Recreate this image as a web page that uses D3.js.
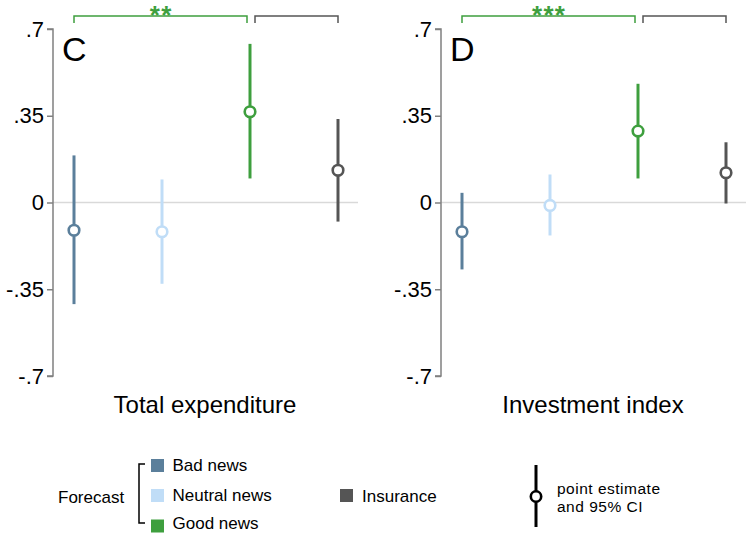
<!DOCTYPE html>
<html><head><meta charset="utf-8">
<script src="https://cdn.jsdelivr.net/npm/d3@7"></script>
<style>body{margin:0;background:#fff}svg{display:block;font-family:"Liberation Sans",Arial,Helvetica,sans-serif}</style>
</head><body>
<svg id="c" width="747" height="533"></svg>
<script>
const categories = ["Bad news","Neutral news","Good news","Insurance"];
const colors = ["#5b7f9b","#c0ddf7","#3e9f3e","#555555"];
const panelLetters = ["C","D"];
const panelTitles = ["Total expenditure","Investment index"];
const stars = ["**","***"];
const estC = [-0.112,-0.118,0.366,0.130];
const loC  = [-0.410,-0.328,0.097,-0.077];
const hiC  = [0.190,0.093,0.640,0.337];
const estD = [-0.118,-0.012,0.288,0.120];
const loD  = [-0.270,-0.133,0.097,-0.004];
const hiD  = [0.039,0.113,0.479,0.243];
const yTicks = [0.7,0.35,0,-0.35,-0.7];
const yTickLabels = [".7",".35","0","-.35","-.7"];

const svg = d3.select("#c");
const y = d3.scaleLinear().domain([-0.7,0.7]).range([376,29]);
const x = d3.scalePoint().domain(categories).range([21,285]);
const panelX = [53,441];
const panelData = [[estC,loC,hiC],[estD,loD,hiD]];

const starSize = 26, starSpacing = 1.3;
let starBase = 24;
try {
  const cv = document.createElement("canvas").getContext("2d");
  cv.font = `bold ${starSize}px "Liberation Sans"`;
  const m = cv.measureText("*");
  const boxAsc = m.fontBoundingBoxAscent || 0.905*starSize;
  starBase = Math.max(3 + m.actualBoundingBoxAscent, boxAsc + 0.3);
} catch(e) {}

panelData.forEach((pd,pi)=>{
  const g = svg.append("g").attr("transform",`translate(${panelX[pi]},0)`);
  g.append("line").attr("x1",0).attr("x2",305).attr("y1",y(0)).attr("y2",y(0))
    .attr("stroke","#d9d9d9").attr("stroke-width",1.5);
  const ax = d3.axisLeft(y).tickValues(yTicks).tickSize(6).tickPadding(3)
    .tickFormat((d,i)=>yTickLabels[i]);
  const axg = g.append("g").call(ax);
  axg.select(".domain").attr("stroke","#808080").attr("stroke-width",1.5).attr("d",`M-6,${y(0.7)}H0V${y(-0.7)}H-6`);
  axg.selectAll(".tick line").attr("stroke","#808080").attr("stroke-width",1.5);
  axg.selectAll(".tick text").attr("font-size",22).attr("fill","#000")
    .attr("font-family","'Liberation Sans',Arial,sans-serif");
  g.append("text").attr("x",9).attr("y",61).attr("font-size",34).text(panelLetters[pi]);
  g.append("text").attr("x",152).attr("y",413).attr("text-anchor","middle")
    .attr("font-size",24).text(panelTitles[pi]);
  const bY = 16, bT = 23;
  const gx1 = x(categories[0]), gx2 = x(categories[2]) - 3;
  g.append("path").attr("d",`M${gx1},${bT}V${bY}H${gx2}V${bT}`)
    .attr("fill","none").attr("stroke","#3e9f3e").attr("stroke-width",1.5);
  const kx1 = x(categories[2]) + 5, kx2 = x(categories[3]);
  g.append("path").attr("d",`M${kx1},${bT}V${bY}H${kx2}V${bT}`)
    .attr("fill","none").attr("stroke","#555").attr("stroke-width",1.5);
  g.append("text").attr("x",(gx1+gx2)/2 + starSpacing/2).attr("y",starBase).attr("text-anchor","middle")
    .attr("font-size",starSize).attr("font-weight","bold").attr("letter-spacing",starSpacing)
    .attr("fill","#3e9f3e").text(stars[pi]);
  const [est,lo,hi] = pd;
  categories.forEach((c,i)=>{
    g.append("line").attr("x1",x(c)).attr("x2",x(c)).attr("y1",y(lo[i])).attr("y2",y(hi[i]))
      .attr("stroke",colors[i]).attr("stroke-width",3);
    g.append("circle").attr("cx",x(c)).attr("cy",y(est[i])).attr("r",5.3)
      .attr("fill","#fff").attr("stroke",colors[i]).attr("stroke-width",2.6);
  });
});

// legend
const lg = svg.append("g").attr("font-size",17);
lg.append("text").attr("x",58).attr("y",503).text("Forecast");
lg.append("path").attr("d","M145,464H139V523H145").attr("fill","none").attr("stroke","#000").attr("stroke-width",1.5);
const sqY = [459,489,519.5];
const txY = [471,501,529];
[0,1,2].forEach(i=>{
  lg.append("rect").attr("x",151).attr("y",sqY[i]).attr("width",13).attr("height",13).attr("fill",colors[i]);
  lg.append("text").attr("x",172.5).attr("y",txY[i]).text(categories[i]);
});
lg.append("rect").attr("x",340).attr("y",489).attr("width",13).attr("height",13).attr("fill",colors[3]);
lg.append("text").attr("x",362).attr("y",501.5).text(categories[3]);
lg.append("line").attr("x1",536).attr("x2",536).attr("y1",465).attr("y2",527).attr("stroke","#000").attr("stroke-width",3);
lg.append("circle").attr("cx",536).attr("cy",496.5).attr("r",5.2).attr("fill","#fff").attr("stroke","#000").attr("stroke-width",2.6);
lg.append("text").attr("x",557).attr("y",494.3).attr("font-size",15.5).attr("letter-spacing",0.5).text("point estimate");
lg.append("text").attr("x",557).attr("y",511.8).attr("font-size",15.5).attr("letter-spacing",0.5).text("and 95% CI");
</script>
</body></html>
